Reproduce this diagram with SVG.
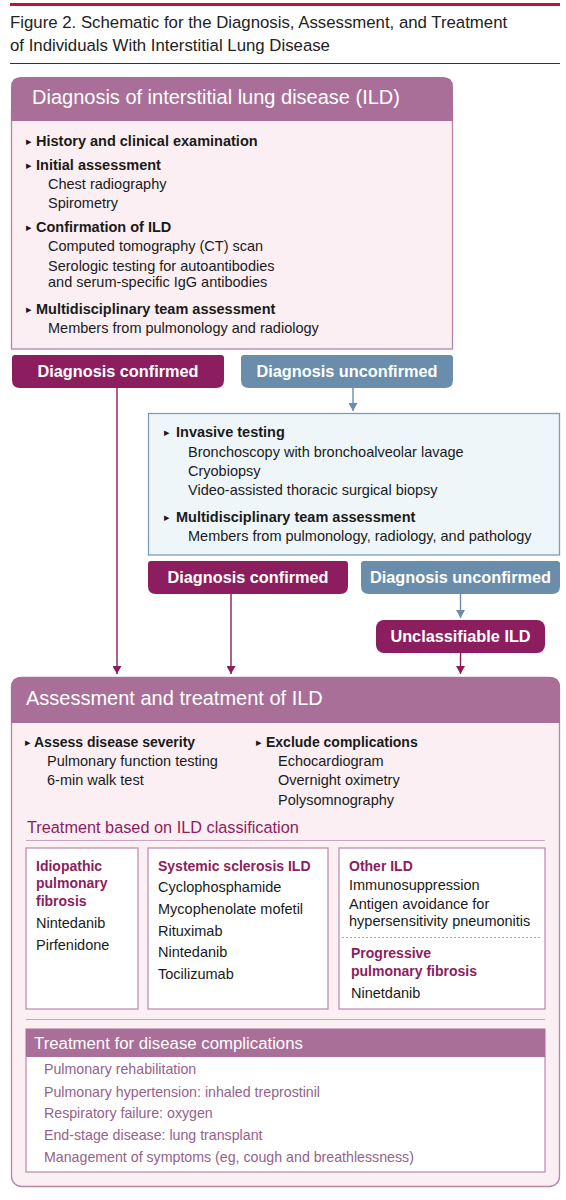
<svg xmlns="http://www.w3.org/2000/svg" width="566" height="1200" viewBox="0 0 566 1200">
<defs>
<marker id="arrM" markerUnits="userSpaceOnUse" markerWidth="9" markerHeight="9" refX="8" refY="4.5" orient="auto"><path d="M0,0 L8,4.5 L0,9 z" fill="#8c1d5e"/></marker>
<marker id="arrB" markerUnits="userSpaceOnUse" markerWidth="9" markerHeight="9" refX="8" refY="4.5" orient="auto"><path d="M0,0 L8,4.5 L0,9 z" fill="#6a8dac"/></marker>
</defs>
<style>
text{font-family:"Liberation Sans",Arial,sans-serif;}
.title{font-size:16.8px;fill:#222;}
.hdr{font-size:20px;fill:#fff;}
.b{font-size:14.5px;font-weight:bold;fill:#1a1a1a;}
.b2{font-size:14px;font-weight:bold;fill:#1a1a1a;}
.r{font-size:14.5px;fill:#1a1a1a;}
.bul{font-family:"DejaVu Sans",sans-serif;font-size:11px;fill:#1a1a1a;}
.btn{font-size:16.3px;font-weight:bold;fill:#fff;text-anchor:middle;}
.sub{font-size:16.3px;fill:#8c1d5e;}
.mg{font-size:14px;font-weight:bold;fill:#8c1d5e;}
.cx{font-size:14.2px;fill:#96628a;}
.hdr2{font-size:16.8px;fill:#fff;}
.mauve{fill:#a96f98;}
.mag{fill:#8c1d5e;}
.blue{fill:#6a8dac;}
.pinkbody{fill:#fbeff3;stroke:#b584a8;stroke-width:1.3;}
.inner{fill:#fff;stroke:#b38aa9;stroke-width:1.2;}
.conn{fill:none;stroke-width:1.4;}
</style>

<g id="title">
<rect x="10" y="3" width="550" height="3" fill="#c8102e"/>
<text class="title" x="10" y="28">Figure 2. Schematic for the Diagnosis, Assessment, and Treatment</text>
<text class="title" x="10" y="51">of Individuals With Interstitial Lung Disease</text>
<line x1="10" y1="63.5" x2="560" y2="63.5" stroke="#333" stroke-width="1"/>
</g>

<g id="diagnosis">
<rect class="pinkbody" x="11.5" y="110" width="441" height="239"/>
<path class="mauve" d="M11,121 V87 Q11,77 21,77 H443 Q453,77 453,87 V121 Z"/>
<text class="hdr" x="32" y="104">Diagnosis of interstitial lung disease (ILD)</text>
<text class="bul" x="26" y="145">▸</text><text class="b" x="36" y="146">History and clinical examination</text>
<text class="bul" x="26" y="169">▸</text><text class="b" x="36" y="170">Initial assessment</text>
<text class="r" x="48" y="189">Chest radiography</text>
<text class="r" x="48" y="208">Spirometry</text>
<text class="bul" x="26" y="231">▸</text><text class="b" x="36" y="232">Confirmation of ILD</text>
<text class="r" x="48" y="251">Computed tomography (CT) scan</text>
<text class="r" x="48" y="271">Serologic testing for autoantibodies</text>
<text class="r" x="48" y="287">and serum-specific IgG antibodies</text>
<text class="bul" x="26" y="313">▸</text><text class="b" x="36" y="314">Multidisciplinary team assessment</text>
<text class="r" x="48" y="333">Members from pulmonology and radiology</text>
</g>

<g id="confirmed1">
<path class="mag" d="M15,355 H221 Q224,355 224,358 V380 Q224,388 216,388 H20 Q12,388 12,380 V358 Q12,355 15,355 Z"/>
<text class="btn" x="118" y="377">Diagnosis confirmed</text>
</g>

<g id="unconfirmed1">
<path class="blue" d="M244,355 H450 Q453,355 453,358 V380 Q453,388 445,388 H249 Q241,388 241,380 V358 Q241,355 244,355 Z"/>
<text class="btn" x="347" y="377">Diagnosis unconfirmed</text>
</g>

<g id="invasive">
<rect x="148.5" y="413.5" width="411" height="141.5" fill="#eef6fa" stroke="#7f9cb6" stroke-width="1.3"/>
<text class="bul" x="164" y="436">▸</text><text class="b" x="176" y="437">Invasive testing</text>
<text class="r" x="188" y="457">Bronchoscopy with bronchoalveolar lavage</text>
<text class="r" x="188" y="476">Cryobiopsy</text>
<text class="r" x="188" y="495">Video-assisted thoracic surgical biopsy</text>
<text class="bul" x="164" y="521">▸</text><text class="b" x="176" y="522">Multidisciplinary team assessment</text>
<text class="r" x="188" y="541">Members from pulmonology, radiology, and pathology</text>
</g>

<g id="confirmed2">
<path class="mag" d="M151,561 H345 Q348,561 348,564 V586 Q348,594 340,594 H156 Q148,594 148,586 V564 Q148,561 151,561 Z"/>
<text class="btn" x="248" y="583">Diagnosis confirmed</text>
</g>

<g id="unconfirmed2">
<path class="blue" d="M364,561 H557 Q560,561 560,564 V586 Q560,594 552,594 H369 Q361,594 361,586 V564 Q361,561 364,561 Z"/>
<text class="btn" x="460.5" y="583">Diagnosis unconfirmed</text>
</g>

<g id="unclassifiable">
<rect class="mag" x="376" y="620" width="169" height="33" rx="8"/>
<text class="btn" x="460.5" y="642">Unclassifiable ILD</text>
</g>

<g id="connectors">
<line class="conn" x1="117" y1="388" x2="117" y2="674" stroke="#8c1d5e" marker-end="url(#arrM)"/>
<line class="conn" x1="353" y1="388" x2="353" y2="411" stroke="#6a8dac" marker-end="url(#arrB)"/>
<line class="conn" x1="231" y1="594" x2="231" y2="674" stroke="#8c1d5e" marker-end="url(#arrM)"/>
<line class="conn" x1="460.5" y1="594" x2="460.5" y2="618" stroke="#6a8dac" marker-end="url(#arrB)"/>
<line class="conn" x1="460.5" y1="653" x2="460.5" y2="674" stroke="#8c1d5e" marker-end="url(#arrM)"/>
</g>

<g id="assessment">
<rect class="pinkbody" x="11.5" y="677.5" width="548" height="509" rx="10"/>
<path class="mauve" d="M11,723 V687 Q11,677 21,677 H550 Q560,677 560,687 V723 Z"/>
<text class="hdr" x="26" y="705">Assessment and treatment of ILD</text>
<text class="bul" x="25" y="746">▸</text><text class="b2" x="34" y="747">Assess disease severity</text>
<text class="r" x="47" y="766">Pulmonary function testing</text>
<text class="r" x="47" y="785">6-min walk test</text>
<text class="bul" x="256" y="746">▸</text><text class="b2" x="266" y="747">Exclude complications</text>
<text class="r" x="278" y="766">Echocardiogram</text>
<text class="r" x="278" y="785">Overnight oximetry</text>
<text class="r" x="278" y="805">Polysomnography</text>
<text class="sub" x="27" y="833">Treatment based on ILD classification</text>
<line x1="26" y1="840.5" x2="545" y2="840.5" stroke="#c9a6bf" stroke-width="1.2"/>
<line x1="26" y1="1019.5" x2="545" y2="1019.5" stroke="#c9a6bf" stroke-width="1.2"/>
</g>

<g id="ipf">
<rect class="inner" x="26" y="848" width="112" height="161"/>
<text class="mg" x="36" y="871">Idiopathic</text>
<text class="mg" x="36" y="888">pulmonary</text>
<text class="mg" x="36" y="906">fibrosis</text>
<text class="r" x="36" y="928">Nintedanib</text>
<text class="r" x="36" y="950">Pirfenidone</text>
</g>

<g id="ssc">
<rect class="inner" x="148" y="848" width="180" height="161"/>
<text class="mg" x="158" y="871">Systemic sclerosis ILD</text>
<text class="r" x="158" y="892">Cyclophosphamide</text>
<text class="r" x="158" y="914">Mycophenolate mofetil</text>
<text class="r" x="158" y="936">Rituximab</text>
<text class="r" x="158" y="957">Nintedanib</text>
<text class="r" x="158" y="979">Tocilizumab</text>
</g>

<g id="other">
<rect class="inner" x="339" y="848" width="206" height="161"/>
<text class="mg" x="349" y="871">Other ILD</text>
<text class="r" x="349" y="890">Immunosuppression</text>
<text class="r" x="349" y="909">Antigen avoidance for</text>
<text class="r" x="349" y="926">hypersensitivity pneumonitis</text>
<line x1="342" y1="937.5" x2="542" y2="937.5" stroke="#aaa" stroke-width="1" stroke-dasharray="2,2"/>
<text class="mg" x="351" y="958">Progressive</text>
<text class="mg" x="351" y="976">pulmonary fibrosis</text>
<text class="r" x="351" y="998">Ninetdanib</text>
</g>

<g id="complications">
<rect class="inner" x="26" y="1029" width="519" height="143"/>
<rect class="mauve" x="26" y="1029" width="519" height="28"/>
<text class="hdr2" x="34" y="1049">Treatment for disease complications</text>
<text class="cx" x="44" y="1074">Pulmonary rehabilitation</text>
<text class="cx" x="44" y="1097">Pulmonary hypertension: inhaled treprostinil</text>
<text class="cx" x="44" y="1118">Respiratory failure: oxygen</text>
<text class="cx" x="44" y="1140">End-stage disease: lung transplant</text>
<text class="cx" x="44" y="1162">Management of symptoms (eg, cough and breathlessness)</text>
</g>
</svg>
